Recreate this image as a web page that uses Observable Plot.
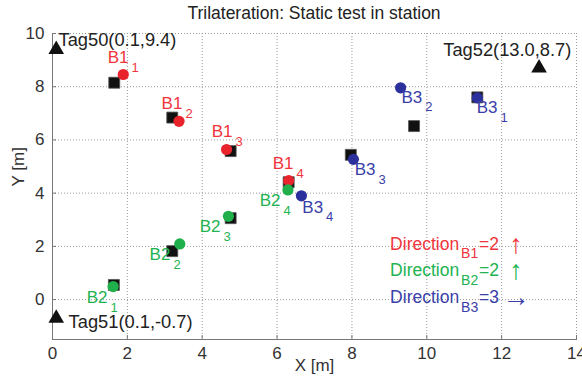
<!DOCTYPE html>
<html><head><meta charset="utf-8">
<script src="https://cdn.jsdelivr.net/npm/d3@7"></script>
<script src="https://cdn.jsdelivr.net/npm/@observablehq/plot@0.6"></script>
<style>
body{margin:0;background:#fff;font-family:Arial,"Liberation Sans",sans-serif;position:relative;}
#title{position:absolute;left:0;top:0;height:27px;line-height:27px;font-size:17.5px;color:#222;text-align:center;padding-left:46px;width:536px;white-space:nowrap;z-index:2;}
</style></head><body>
<div id="title">Trilateration: Static test in station</div>
<div id="chart"></div>
<script>
// ground-truth positions (black squares)
const truthX = [1.65, 3.2, 4.76, 6.31, 1.64, 3.2, 4.76, 11.35, 9.66, 7.97];
const truthY = [8.15, 6.84, 5.58, 4.41, 0.55, 1.82, 3.06, 7.6, 6.52, 5.44];
// estimated positions per beacon
const b1X = [1.89, 3.38, 4.65, 6.31];
const b1Y = [8.46, 6.7, 5.64, 4.47];
const b2X = [1.62, 3.4, 4.7, 6.29];
const b2Y = [0.49, 2.09, 3.13, 4.12];
const b3X = [11.35, 9.3, 8.04, 6.65];
const b3Y = [7.58, 7.96, 5.27, 3.9];
// label anchors (end of "Bn" text)
const b1LabX = [2.03, 3.47, 4.81, 6.44];
const b1LabY = [9.10, 7.37, 6.32, 5.11];
const b2LabX = [1.47, 3.15, 4.49, 6.09];
const b2LabY = [0.08, 1.69, 2.74, 3.72];
const b3LabX = [11.89, 9.88, 8.63, 7.23];
const b3LabY = [7.22, 7.61, 4.89, 3.47];
const beaconNames = ["B1", "B2", "B3"];
const subs = ["1", "2", "3", "4"];
// tags (anchors)
const tagX = [0.1, 0.1, 13.0];
const tagY = [9.4, -0.7, 8.7];
const tagLabels = ["Tag50(0.1,9.4)", "Tag51(0.1,-0.7)", "Tag52(13.0,8.7)"];
const tagLabX = [0.16, 0.43, 10.44];
const tagLabY = [9.74, -0.85, 9.36];
// direction legend
const dirX = [9.02, 9.02, 9.02];
const dirY = [2.09, 1.09, 0.09];
const dirSubs = ["B1", "B2", "B3"];
const dirVals = ["=2", "=2", "=3"];
const dirArrows = ["\u2191", "\u2191", "\u2192"];
// ticks
const xTicks = [0, 2, 4, 6, 8, 10, 12, 14];
const yTicks = [0, 2, 4, 6, 8, 10];
const xDomain = [0, 14];
const yDomain = [-1.5, 10];

const circleColors = ["#e8232b", "#20b04b", "#2c309c"];
const textColors = ["#f0343c", "#22b350", "#3a40a8"];

const idx4 = [0, 1, 2, 3];
const truth = truthX.map((x, i) => ({x, y: truthY[i]}));
const beacons = [
  {xs: b1X, ys: b1Y, lx: b1LabX, ly: b1LabY},
  {xs: b2X, ys: b2Y, lx: b2LabX, ly: b2LabY},
  {xs: b3X, ys: b3Y, lx: b3LabX, ly: b3LabY}
];
const tags = tagX.map((x, i) => ({x, y: tagY[i], label: tagLabels[i], lx: tagLabX[i], ly: tagLabY[i]}));
const dirs = dirX.map((x, i) => ({x, y: dirY[i], sub: dirSubs[i], val: dirVals[i], arrow: dirArrows[i], c: textColors[i]}));

const marks = [
  Plot.gridX(xTicks, {stroke: "#9a9a9a", strokeOpacity: 1, strokeDasharray: "1,2"}),
  Plot.gridY(yTicks, {stroke: "#9a9a9a", strokeOpacity: 1, strokeDasharray: "1,2"}),
  Plot.frame({anchor: "left", stroke: "#777"}),
  Plot.frame({anchor: "bottom", stroke: "#777"}),
  Plot.axisX({ticks: xTicks, tickSize: -4, tickPadding: 11, fontSize: 17, color: "#333", stroke: "#777", label: null}),
  Plot.axisY({ticks: yTicks, tickSize: -4, tickPadding: 12, fontSize: 17, color: "#333", stroke: "#777", label: null}),
  Plot.text(["X [m]"], {frameAnchor: "bottom", dy: 31, fontSize: 17, fill: "#333"}),
  Plot.text(["Y [m]"], {frameAnchor: "left", dx: -34, rotate: -90, fontSize: 17, fill: "#333"}),
  Plot.dot(truth, {x: "x", y: "y", symbol: "square", r: 6.2, fill: "#111", stroke: "#555", strokeWidth: 0.8})
];
beacons.forEach((b, k) => {
  marks.push(Plot.dot(idx4, {x: i => b.xs[i], y: i => b.ys[i], r: 5.6, fill: circleColors[k]}));
});
beacons.forEach((b, k) => {
  marks.push(Plot.text(idx4, {x: i => b.lx[i], y: i => b.ly[i], text: () => beaconNames[k], textAnchor: "end", fontSize: 17, fill: textColors[k]}));
  marks.push(Plot.text(idx4, {x: i => b.lx[i], y: i => b.ly[i], text: i => subs[i], textAnchor: "start", dx: 3, dy: 10, fontSize: 13, fill: textColors[k]}));
});
marks.push(
  Plot.dot(tags, {x: "x", y: "y", symbol: "triangle", r: 5.8, fill: "#111"}),
  Plot.text(tags, {x: "lx", y: "ly", text: "label", textAnchor: "start", fontSize: 18.3, fill: "#222"}),
  Plot.text(dirs, {x: "x", y: "y", text: () => "Direction", textAnchor: "start", fontSize: 17.5, fill: "c"}),
  Plot.text(dirs, {x: "x", y: "y", text: "sub", textAnchor: "start", dx: 71, dy: 10, fontSize: 14, fill: "c"}),
  Plot.text(dirs, {x: "x", y: "y", text: "val", textAnchor: "start", dx: 89, fontSize: 17.5, fill: "c"}),
  Plot.text(dirs, {x: "x", y: "y", text: "arrow", textAnchor: "middle", dx: 126, dy: 0, fontSize: 27, fontFamily: "Liberation Sans", fill: "c"})
);

const chart = Plot.plot({
  width: 582,
  height: 382,
  marginLeft: 52,
  marginRight: 6,
  marginTop: 33,
  marginBottom: 43,
  style: {fontFamily: "Arial, 'Liberation Sans', sans-serif", background: "#fff"},
  x: {domain: xDomain, label: null},
  y: {domain: yDomain, label: null},
  marks
});
document.getElementById("chart").appendChild(chart);
</script>
</body></html>
